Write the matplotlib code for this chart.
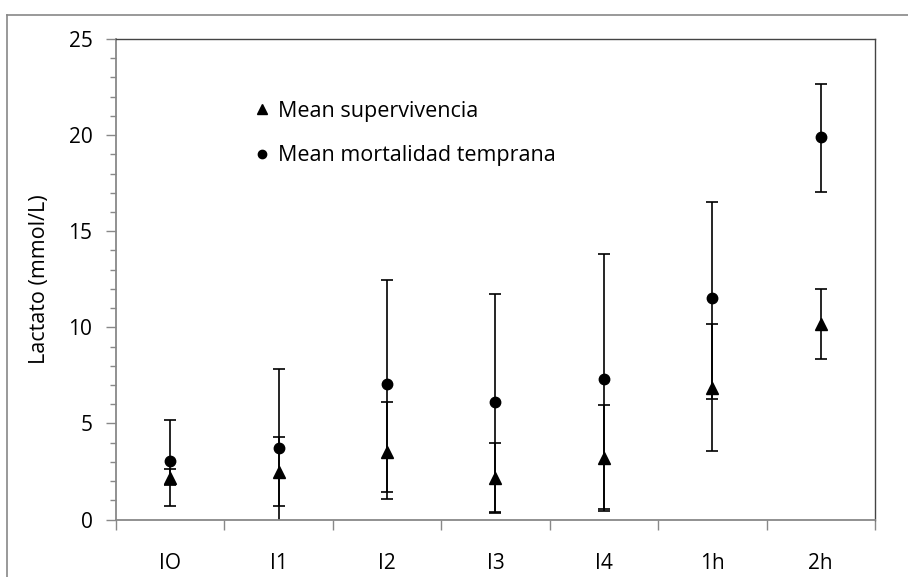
import matplotlib.pyplot as plt
from matplotlib.lines import Line2D

# datos
categorias = ['IO', 'I1', 'I2', 'I3', 'I4', '1h', '2h']
supervivencia = [2.16, 2.49, 3.53, 2.14, 3.22, 6.83, 10.17]
superv_alto = [2.64, 4.31, 6.10, 3.96, 5.96, 10.16, 12.01]
superv_bajo = [1.80, 0.72, 1.07, 0.32, 0.46, 3.58, 8.35]
mortalidad = [3.04, 3.74, 7.03, 6.13, 7.31, 11.51, 19.92]
mort_alto = [5.16, 7.81, 12.46, 11.75, 13.80, 16.50, 22.64]
mort_bajo = [0.72, -0.33, 1.42, 0.40, 0.56, 6.25, 17.06]

plt.rcParams['font.family'] = ['Open Sans', 'DejaVu Sans']

fig = plt.figure(figsize=(9.08, 5.77), dpi=100)
ax = fig.add_axes([116 / 908, 57.5 / 577, 759 / 908, 480.5 / 577])

x = range(len(categorias))
err_s = [[m - b for m, b in zip(supervivencia, superv_bajo)],
         [a - m for m, a in zip(supervivencia, superv_alto)]]
err_m = [[m - b for m, b in zip(mortalidad, mort_bajo)],
         [a - m for m, a in zip(mortalidad, mort_alto)]]

ax.errorbar(x, supervivencia, yerr=err_s, fmt='^', color='black', ms=8,
            ecolor='black', elinewidth=1.2, capsize=4.5, capthick=1.2)
ax.errorbar(x, mortalidad, yerr=err_m, fmt='o', color='black', ms=7.5,
            ecolor='black', elinewidth=1.2, capsize=4.5, capthick=1.2)

# ejes
ax.set_xlim(-0.5, len(categorias) - 0.5)
ax.set_ylim(0, 25)
ax.set_yticks(range(0, 26, 5))
ax.set_yticks(range(0, 26), minor=True)
ax.tick_params(axis='y', which='major', length=7, width=1, color='#888888',
               labelsize=15, pad=10)
ax.tick_params(axis='y', which='minor', length=4.5, width=1, color='#888888')
ax.set_xticks(list(x))
ax.set_xticklabels(categorias)
ax.set_xticks([i - 0.5 for i in range(len(categorias) + 1)], minor=True)
ax.tick_params(axis='x', which='major', length=0, labelsize=15, pad=24)
ax.tick_params(axis='x', which='minor', length=7, width=1, color='#888888')

for lado in ['left', 'bottom']:
    ax.spines[lado].set_color('#888888')
    ax.spines[lado].set_linewidth(1.3)
for lado in ['top', 'right']:
    ax.spines[lado].set_color('#444444')
    ax.spines[lado].set_linewidth(1.0)

ax.set_ylabel('Lactato (mmol/L)', fontsize=15.5, labelpad=13)

# leyenda
handles = [Line2D([], [], marker='^', ls='none', color='black', ms=7),
           Line2D([], [], marker='o', ls='none', color='black', ms=6)]
ax.legend(handles, ['Mean supervivencia', 'Mean mortalidad temprana'],
          loc='upper left', bbox_to_anchor=(0.152, 0.912), frameon=False,
          fontsize=15.5, handletextpad=0.25, labelspacing=1.1,
          handlelength=1.0)

# marco exterior del grafico
fig.add_artist(Line2D([7 / 908, 7 / 908], [0, 1 - 15 / 577],
                      color='#888888', lw=1.2))
fig.add_artist(Line2D([7 / 908, 1], [1 - 15 / 577, 1 - 15 / 577],
                      color='#888888', lw=1.2))

plt.savefig('out.png', dpi=100)
